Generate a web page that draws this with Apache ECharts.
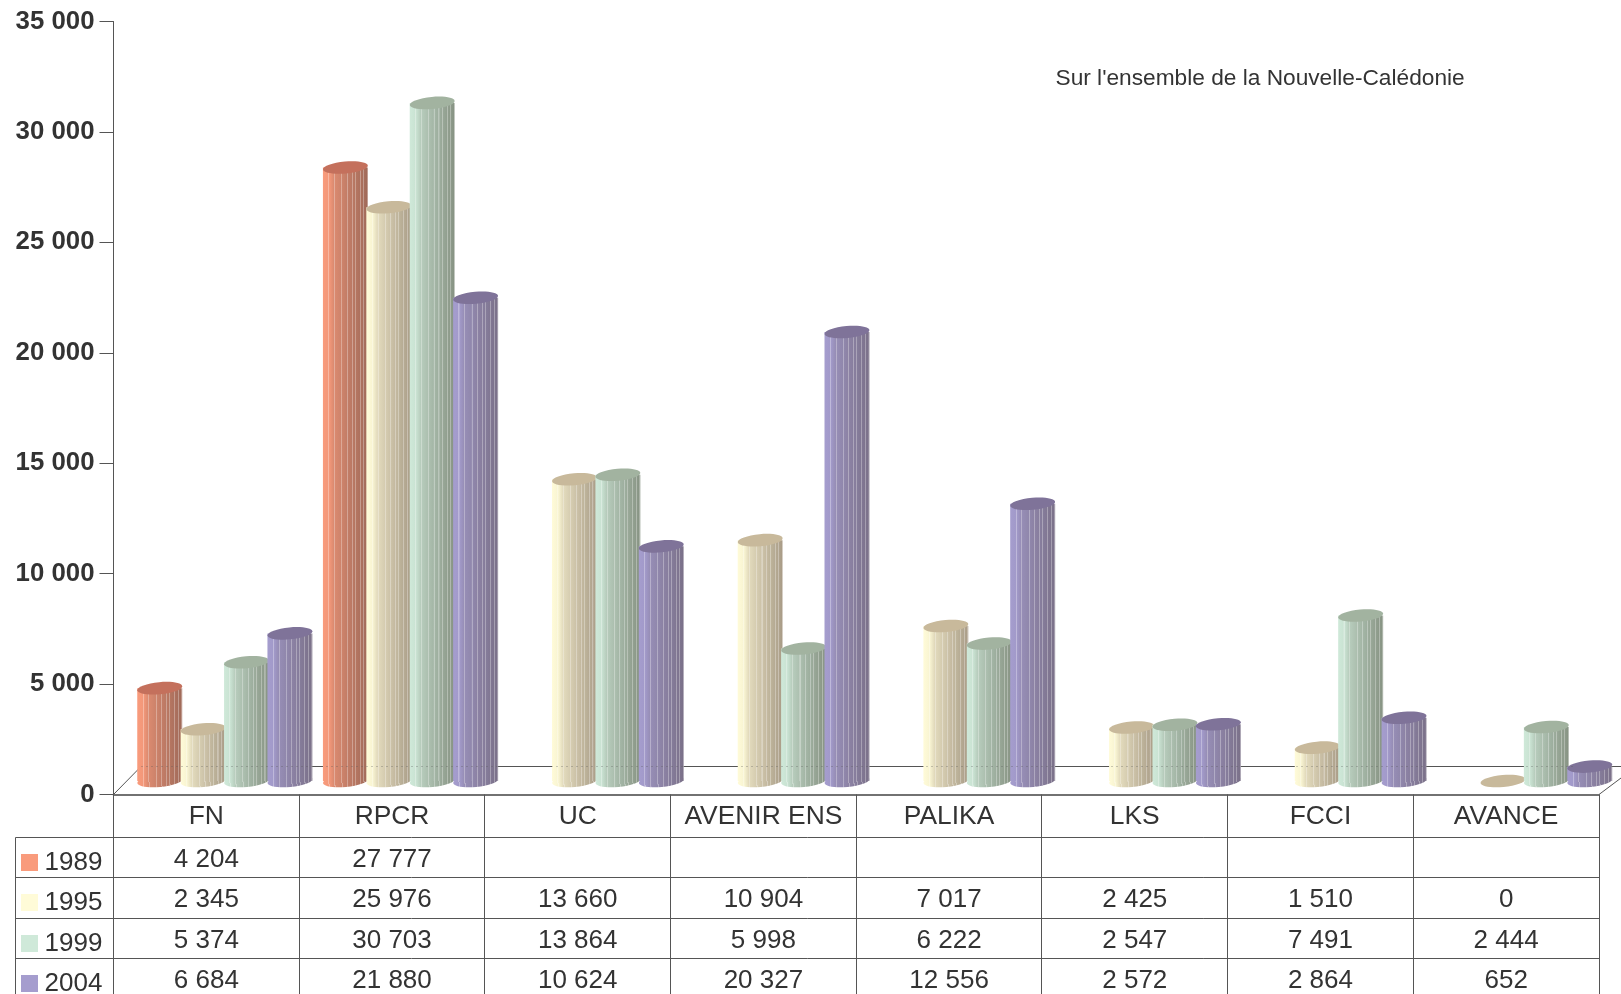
<!DOCTYPE html>
<html>
<head>
<meta charset="utf-8">
<title>Sur l'ensemble de la Nouvelle-Calédonie</title>
<style>
  html, body { margin: 0; padding: 0; background: #fff; }
  #chart { width: 1621px; height: 994px; }
</style>
<script src="https://cdn.jsdelivr.net/npm/echarts@6/dist/echarts.min.js"></script>
</head>
<body>
<div id="chart"></div>
<script>
const categories = ["FN", "RPCR", "UC", "AVENIR ENS", "PALIKA", "LKS", "FCCI", "AVANCE"];
const years = ["1989", "1995", "1999", "2004"];

const values1989 = [4204, 27777, null, null, null, null, null, null];
const values1995 = [2345, 25976, 13660, 10904, 7017, 2425, 1510, 0];
const values1999 = [5374, 30703, 13864, 5998, 6222, 2547, 7491, 2444];
const values2004 = [6684, 21880, 10624, 20327, 12556, 2572, 2864, 652];
const allValues = [values1989, values1995, values1999, values2004];

// couleurs des cylindres : gauche, droite, dessus
const palette = [
  { left: "#f99b7c", right: "#a06a59", top: "#c4705c" },
  { left: "#fffbd8", right: "#aa9d88", top: "#c8b99b" },
  { left: "#cfe9d9", right: "#889484", top: "#a2b3a0" },
  { left: "#a59dce", right: "#7b7189", top: "#7f7399" }
];
const stripes = [0.13, 0.26, 0.42, 0.54, 0.65, 0.72, 0.83, 0.91];

const GRID = { left: 113.5, right: 1599, top: 21.5, bottom: 794.5 };
const ROWS = [837.5, 877.5, 918.5, 958.5];
const BAR_W = 45, BAR_STEP = 43.4, RY = 6, DEPTH_X = 18.5, DEPTH_Y = 13.5, TILT = 0.09;
const TEXT = "#333333", LINE = "#555555", FONT = "Liberation Sans, Arial, sans-serif";

function fmt(v) {
  return v === null ? "" : String(v).replace(/\B(?=(\d{3})+$)/g, " ");
}

function mix(a, b, t) {
  const p = s => [1, 3, 5].map(i => parseInt(s.substr(i, 2), 16));
  const ca = p(a), cb = p(b);
  return "#" + ca.map((c, i) => Math.round(c + (cb[i] - c) * t).toString(16).padStart(2, "0")).join("");
}

// la partie gauche reste claire, puis le cylindre s'assombrit
function shade(s) {
  return s < 0.25 ? s * 0.5 : 0.35 + (s - 0.25) * 0.87;
}

/* dégradé horizontal avec fines rayures claires */
function cylinderFill(col) {
  const stops = [{ offset: 0, color: col.left }];
  stripes.forEach(s => {
    const base = mix(col.left, col.right, shade(s));
    const light = mix(base, "#ffffff", 0.3);
    stops.push({ offset: s - 0.012, color: base });
    stops.push({ offset: s - 0.011, color: light });
    stops.push({ offset: s + 0.011, color: light });
    stops.push({ offset: s + 0.012, color: base });
  });
  stops.push({ offset: 0.975, color: col.right });
  stops.push({ offset: 0.98, color: mix(col.right, "#ffffff", 0.3) });
  stops.push({ offset: 1, color: mix(col.right, "#ffffff", 0.3) });
  return { type: "linear", x: 0, y: 0, x2: 1, y2: 0, colorStops: stops };
}

function cylinderSeries(idx) {
  const fill = cylinderFill(palette[idx]);
  return {
    name: years[idx],
    type: "custom",
    coordinateSystem: "cartesian2d",
    encode: { x: 0, y: 1 },
    data: allValues[idx].map((v, i) => [i, v]).filter(d => d[1] !== null),
    renderItem(params, api) {
      const base = api.coord([api.value(0), 0]);
      const top = api.coord([api.value(0), api.value(1)]);
      const cx = base[0] + DEPTH_X + (idx - 1.5) * BAR_STEP;
      const yBase = base[1] - DEPTH_Y;
      const yTop = top[1] - DEPTH_Y;
      const rx = BAR_W / 2;
      const children = [];
      if (api.value(1) > 0) {
        children.push({
          type: "ellipse", x: cx, y: yBase, rotation: TILT,
          shape: { cx: 0, cy: 0, rx: rx, ry: RY },
          style: { fill: fill }
        });
        children.push({
          type: "rect",
          shape: { x: cx - rx, y: yTop, width: BAR_W, height: yBase - yTop },
          style: { fill: fill }
        });
      }
      children.push({
        type: "ellipse", x: cx, y: yTop, rotation: TILT,
        shape: { cx: 0, cy: 0, rx: rx, ry: RY },
        style: { fill: palette[idx].top }
      });
      return { type: "group", children: children };
    }
  };
}

/* tableau de données sous l'axe */
function line(x1, y1, x2, y2, z) {
  return {
    type: "line", silent: true, z: z || 1,
    shape: { x1: x1, y1: y1, x2: x2, y2: y2 },
    style: { stroke: LINE, lineWidth: 1 }
  };
}

function label(text, x, y, align) {
  return {
    type: "text", silent: true, z: 3, x: x, y: y,
    style: { text: text, fill: TEXT, font: "26px " + FONT, align: align || "center", verticalAlign: "middle" }
  };
}

function buildTable() {
  const els = [];
  const cw = (GRID.right - GRID.left) / categories.length;
  // plancher et perspective
  els.push(line(141, 766.5, 1621, 766.5));
  els.push(line(GRID.left, 794.5, 141, 766.5));
  els.push(line(GRID.right, 794.5, 1621, 778));
  // ligne pointillée du plancher vue à travers les cylindres
  const dotted = line(141, 766.5, 1575, 766.5, 50);
  dotted.style.lineDash = [2, 3];
  dotted.style.opacity = 0.3;
  els.push(dotted);
  // lignes du tableau
  ROWS.forEach(y => els.push(line(15.5, y, GRID.right, y)));
  els.push(line(15.5, ROWS[0], 15.5, 994));
  for (let i = 0; i <= categories.length; i++) {
    const x = Math.floor(GRID.left + i * cw) + 0.5;
    els.push(line(x, 794.5, x, 994));
  }
  // légende + valeurs
  years.forEach((year, r) => {
    const yText = ROWS[r] + 22.5;
    els.push({
      type: "rect", silent: true, z: 3,
      shape: { x: 21, y: yText + 2.5 - 8.5, width: 17, height: 17 },
      style: { fill: palette[r].left }
    });
    els.push(label(year, 44.5, yText + 3, "left"));
    allValues[r].forEach((v, c) => {
      if (v !== null) els.push(label(fmt(v), GRID.left + (c + 0.5) * cw, yText));
    });
  });
  // titre
  els.push({
    type: "text", silent: true, z: 3, x: 1055.5, y: 78.5,
    style: { text: "Sur l'ensemble de la Nouvelle-Calédonie", fill: TEXT, font: "22.7px " + FONT, verticalAlign: "middle" }
  });
  return els;
}

const chart = echarts.init(document.getElementById("chart"));
chart.setOption({
  animation: false,
  backgroundColor: "#ffffff",
  grid: { left: GRID.left, top: GRID.top, width: GRID.right - GRID.left, height: GRID.bottom - GRID.top, containLabel: false },
  xAxis: {
    type: "category",
    data: categories,
    axisTick: { show: false },
    axisLine: { show: true, onZero: true, lineStyle: { color: "#444444", width: 1.5 } },
    axisLabel: { color: TEXT, fontFamily: FONT, fontSize: 26.4, margin: 9, interval: 0 }
  },
  yAxis: {
    type: "value",
    min: 0,
    max: 35000,
    interval: 5000,
    splitLine: { show: false },
    axisLine: { show: true, lineStyle: { color: LINE, width: 1 } },
    axisTick: { show: true, length: 14, lineStyle: { color: LINE } },
    axisLabel: { color: TEXT, fontFamily: FONT, fontSize: 25.8, fontWeight: "bold", margin: 19, verticalAlign: "middle", padding: [2, 0, 0, 0], formatter: v => fmt(v) }
  },
  series: years.map((y, i) => cylinderSeries(i)),
  graphic: { elements: buildTable() }
});

window.addEventListener("resize", () => chart.resize());
</script>
</body>
</html>
